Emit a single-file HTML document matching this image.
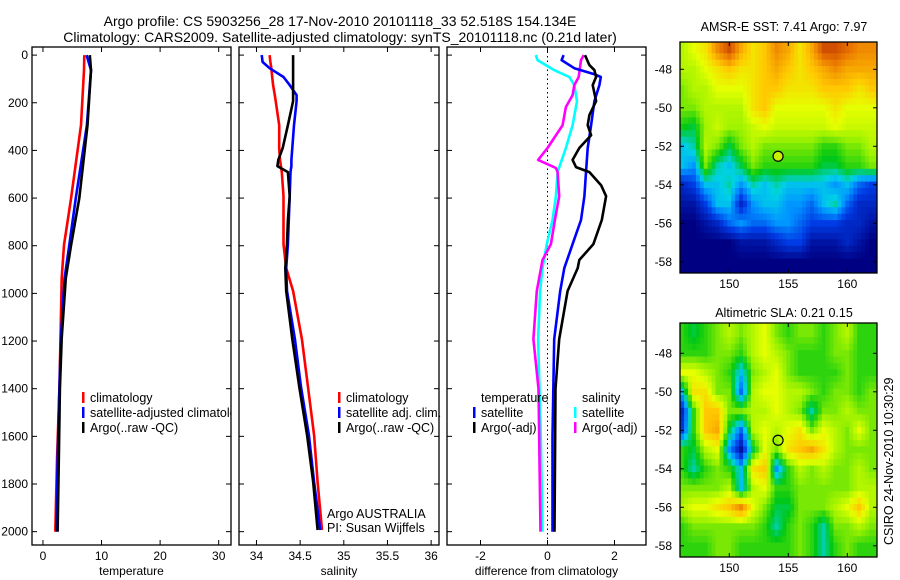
<!DOCTYPE html>
<html><head><meta charset="utf-8"><style>
html,body{margin:0;padding:0;background:#fff;}
svg{display:block;font-family:"Liberation Sans",sans-serif;}
</style></head><body>
<svg id="fig" width="900" height="580" viewBox="0 0 900 580" xmlns="http://www.w3.org/2000/svg">
<text x="340" y="26" text-anchor="middle" font-size="14">Argo profile: CS 5903256_28 17-Nov-2010 20101118_33 52.518S 154.134E</text>
<text x="340" y="42" text-anchor="middle" font-size="14">Climatology: CARS2009. Satellite-adjusted climatology: synTS_20101118.nc (0.21d later)</text>
<g id="p1"></g>
<g id="p2"></g>
<g id="p3"></g>
<text x="784" y="31" text-anchor="middle" font-size="12.5">AMSR-E SST: 7.41 Argo: 7.97</text>
<text x="784" y="317" text-anchor="middle" font-size="12.5">Altimetric SLA: 0.21 0.15</text>
<g id="m1"></g>
<g id="m2"></g>
<text transform="translate(893,545) rotate(-90)" font-size="12.5">CSIRO 24-Nov-2010 10:30:29</text>
</svg>
<script>
// ---- profile data ----
const depthT = [0,63,294,600,797,936,1188,1400,1700,2000];
const tempClim = [7.06,7.0,6.5,4.8,3.6,3.2,3.0,2.8,2.4,2.1];
const tempSat = [7.45,8.2,7.5,5.6,4.5,3.7,3.07,2.8,2.5,2.3];
const tempArgo = [8.0,8.2,7.6,6.2,4.8,3.9,3.2,2.9,2.7,2.5];

const depthS = [0,29,55,92,126,168,193,294,390,440,466,491,592,692,793,894,990,1192,1393,1595,1792,1993];
const salClim = [34.15,34.16,34.17,34.18,34.19,34.21,34.22,34.26,34.26,34.27,34.28,34.29,34.31,34.31,34.31,34.34,34.42,34.52,34.59,34.66,34.70,34.75];
const salSat = [34.06,34.07,34.15,34.31,34.38,34.46,34.46,34.43,34.41,34.40,34.40,34.39,34.38,34.37,34.36,34.34,34.35,34.44,34.51,34.60,34.66,34.73];
const salArgo = [34.42,34.42,34.42,34.42,34.42,34.42,34.42,34.36,34.30,34.25,34.24,34.36,34.38,34.36,34.35,34.33,34.34,34.41,34.49,34.58,34.65,34.70];

const depthD1 = [0,21,55,80,92,126,193,294,390,491,592,692,793,894,990,1192,1600,2000];
const dTempSat = [0.48,0.42,0.80,1.40,1.59,1.55,1.40,1.30,1.20,1.15,1.10,1.00,0.75,0.50,0.38,0.20,0.15,0.15];
const depthD2 = [0,42,63,92,126,193,252,294,336,390,440,470,491,546,592,692,793,860,894,990,1192,1400,2000];
const dTempArgo = [1.12,1.25,1.40,1.45,1.35,1.45,1.25,1.20,1.30,0.95,0.75,0.85,1.25,1.60,1.75,1.62,1.37,0.95,0.90,0.60,0.35,0.24,0.21];
const depthD3 = [0,21,63,92,126,193,294,390,491,592,692,793,894,990,1192,1600,2000];
const dSalSat = [-0.35,-0.30,0.20,0.65,0.80,0.88,0.75,0.55,0.30,0.25,0.15,-0.02,-0.15,-0.22,-0.28,-0.20,-0.15];
const depthD4 = [0,21,92,126,168,218,294,390,440,474,491,592,692,793,860,990,1192,1400,2000];
const dSalArgo = [1.08,1.00,0.93,0.80,0.75,0.55,0.45,0.0,-0.28,0.25,0.30,0.35,0.22,0.10,-0.15,-0.32,-0.42,-0.27,-0.21];

const depthTicks = [0,200,400,600,800,1000,1200,1400,1600,1800,2000];
const tempTicks = [0,10,20,30];
const salTicks = [34,34.5,35,35.5,36];
const diffTicks = [-2,0,2];

// ---- map grids (lat rows -47..-58, lon cols 146..162) ----
const mapLons = [146,147,148,149,150,151,152,153,154,155,156,157,158,159,160,161,162];
const mapLats = [-47,-48,-49,-50,-51,-52,-53,-54,-55,-56,-57,-58];
const sstGrid = [
[5.5,6,6.5,8,9,7.5,6.5,7,8,7.5,6.5,7.5,9,9,8.5,8,8],
[5.5,5.5,6,6.5,7,6.5,6.5,7,7.5,7,6.5,7,7.5,8,7.5,7.5,7.5],
[5,5.5,5.5,6,6,6,6.5,7,7,6.5,6.5,6.5,7,7,7,6.5,7],
[5,5,5.5,5.5,5.5,5.5,6.5,7,6,6,6,6,6,6.5,6,6,6],
[4.3,4,5.3,5.7,5.3,5.3,5.7,6,5.7,5.7,5.7,5.7,5.7,6,5.7,5.7,5.7],
[3,3.5,5.5,5,4,5,5.5,5,5,5,5,5,4.5,4.5,5,5,5.5],
[3,2.5,5,3.5,3,4,5,4.5,4.5,4.5,4.5,4.5,4,4,4.5,4.5,5],
[1,1.5,3,3,3.5,2.5,3.5,3,3.5,3,3,3,3,2.5,3,2,1.5],
[0.5,0.5,1.5,3,3,1,2.5,3,3,2.5,2.5,2,3,3.5,2,1,1],
[0,0,0.5,1,2,2.5,2,2,2.5,2.5,2,1.5,1.5,1.5,1,1,0.5],
[0,0,0,0,0,0.5,0.5,0.5,1,1.5,1.5,0.5,0.5,0.5,1,0.5,0],
[0,0,0,0,0,0,0,0,0,0,0,0,0,0,0,0,0]];
const slaGrid = [
[4.5,4,4.5,5,5.5,5,5.5,6,5,4.5,5,5,4.5,5,5.5,4.5,4.5],
[4.5,4.5,4.5,5,5,4.5,5.5,6,5.5,5,4.5,4.5,4.5,5,5,4.5,4.5],
[6,6,5.5,5,4.5,3,5,5.5,6,5,4.5,4.5,4.5,4.5,5,4.5,4.5],
[3,6.5,6.5,5,5,2,5.5,6,6,5.5,5.5,5,4.5,5,5,4.5,5],
[1,4.5,7,7,5,5,5.5,5.5,6,5.5,5,3.5,5,5,5.5,5,5],
[1.5,4.5,7,7.5,4,2,5.5,6,5.5,6,6.5,5,6,5.5,5,6,5],
[4.5,4,5.5,6,2.5,0.5,4,6,5,6.5,7,7.5,6.5,5.5,5,5,5],
[4.5,3.5,4.5,5,4.5,3,6.5,7,2.5,4.5,5.5,5,5.5,5,5,5.5,5],
[5,5,5,5,5.5,3,5.5,6,4.5,4.5,5,5,5,5,5,5.5,5.5],
[5.5,6,6,6.5,7,8,6,5,4,4,5,5,5,5.5,6,7,5.5],
[4.5,5,5,5,5,5,5,4.5,3.5,4.5,5,4.5,3.5,5,5,5.5,5],
[4.5,4.5,4.5,5,5,4.5,4.5,4.5,4.5,4.5,5,4.5,3.5,4.5,5,4.5,4.5]];
const floatLon = 154.134, floatLat = -52.518;
const mapLonTicks = [150,155,160];
const mapLatTicks = [-48,-50,-52,-54,-56,-58];

const NS = "http://www.w3.org/2000/svg";
function mk(tag, attrs, parent){const e=document.createElementNS(NS,tag);for(const k in attrs)e.setAttribute(k,attrs[k]);parent.appendChild(e);return e;}

const Y0=47, Y1=545;
const dMin=-34, dMax=2056;
const yOf = d => Y0 + (d-dMin)/(dMax-dMin)*(Y1-Y0);

function panel(g, x0, x1, xmin, xmax, xticks, xlabelFmt, xtitle, showY){
  const xOf = v => x0 + (v-xmin)/(xmax-xmin)*(x1-x0);
  const frame = mk('rect',{x:x0,y:Y0,width:x1-x0,height:Y1-Y0,fill:'none',stroke:'#000','stroke-width':1.3},g);
  
  
  depthTicks.forEach(d=>{
    const y=yOf(d);
    const t1=mk('line',{x1:x0,x2:x0+5,y1:y,y2:y,stroke:'#000'},g);
    
    
    mk('line',{x1:x1,x2:x1-5,y1:y,y2:y,stroke:'#000'},g);
    if(showY){
      const t=mk('text',{x:x0-4,y:y+4,'text-anchor':'end','font-size':12},g);
      t.textContent=d;
      
      
    }
  });
  xticks.forEach(v=>{
    const x=xOf(v);
    const t1=mk('line',{x1:x,x2:x,y1:Y1,y2:Y1-5,stroke:'#000'},g);
    
    
    mk('line',{x1:x,x2:x,y1:Y0,y2:Y0+5,stroke:'#000'},g);
    const t=mk('text',{x:x,y:Y1+15,'text-anchor':'middle','font-size':12},g);
    t.textContent=xlabelFmt(v);
    
    
  });
  const tt=mk('text',{x:(x0+x1)/2,y:575,'text-anchor':'middle','font-size':12},g);
  tt.textContent=xtitle;
  
  
  return xOf;
}
function line(g, xOf, depths, vals, color, name, clip){
  const pts = depths.map((d,i)=>xOf(vals[i]).toFixed(1)+','+yOf(d).toFixed(1)).join(' ');
  const p=mk('polyline',{points:pts,fill:'none',stroke:color,'stroke-width':2.6,'stroke-linejoin':'round'},g);
  if(clip) p.setAttribute('clip-path',clip);
  
  
}
function legend(g, x, y, color, label, name){
  const b=mk('rect',{x:x,y:y-10,width:2.5,height:11,fill:color},g);
  
  
  const t=mk('text',{x:x+8,y:y,'font-size':12.5},g);
  t.textContent=label;
  
  
  return t;
}
const svg=document.getElementById('fig');
const defs=mk('defs',{},svg);
function clipRect(id,x,y,w,h){const c=mk('clipPath',{id:id},defs);mk('rect',{x:x,y:y,width:w,height:h},c);}
clipRect('c1',32,47,199,498);clipRect('c2',239,47,200,498);clipRect('c3',447,47,199,498);

// Panel 1
const g1=document.getElementById('p1');
const xT=panel(g1,32,231,-1.87,32.1,tempTicks,v=>v,'temperature',true);
line(g1,xT,depthT,tempClim,'#f00','temp-climatology-line','url(#c1)');
line(g1,xT,depthT,tempSat,'#00f','temp-satellite-line','url(#c1)');
line(g1,xT,depthT,tempArgo,'#000','temp-argo-line','url(#c1)');
const lg1=document.createElementNS(NS,'g');lg1.setAttribute('clip-path','url(#c1)');g1.appendChild(lg1);
legend(lg1,82,402,'#f00','climatology','legend-climatology');
legend(lg1,82,417,'#00f','satellite-adjusted climatology','legend-satellite-adjusted');
legend(lg1,82,432,'#000','Argo(..raw -QC)','legend-argo-raw');

// Panel 2
const g2=document.getElementById('p2');
const xS=panel(g2,239,439,33.8,36.09,salTicks,v=>v,'salinity',false);
line(g2,xS,depthS,salClim,'#f00','sal-climatology-line','url(#c2)');
line(g2,xS,depthS,salSat,'#00f','sal-satellite-line','url(#c2)');
line(g2,xS,depthS,salArgo,'#000','sal-argo-line','url(#c2)');
legend(g2,338,402,'#f00','climatology','legend-sal-climatology');
legend(g2,338,417,'#00f','satellite adj. clim.','legend-sal-satellite');
legend(g2,338,432,'#000','Argo(..raw -QC)','legend-sal-argo');
const a1=mk('text',{x:327,y:518,'font-size':12.5},g2);a1.textContent='Argo AUSTRALIA';

const a2=mk('text',{x:327,y:532,'font-size':12.5},g2);a2.textContent='PI: Susan Wijffels';


// Panel 3
const g3=document.getElementById('p3');
const xD=panel(g3,447,646,-3.0,2.94,diffTicks,v=>v,'difference from climatology',false);
const z=mk('line',{x1:xD(0),x2:xD(0),y1:Y0,y2:Y1,stroke:'#000','stroke-dasharray':'1.5,3','stroke-width':1},g3);

line(g3,xD,depthD3,dSalSat,'#0ff','diff-sal-satellite-line','url(#c3)');
line(g3,xD,depthD4,dSalArgo,'#f0f','diff-sal-argo-line','url(#c3)');
line(g3,xD,depthD1,dTempSat,'#00f','diff-temp-satellite-line','url(#c3)');
line(g3,xD,depthD2,dTempArgo,'#000','diff-temp-argo-line','url(#c3)');
const th=mk('text',{x:481,y:402,'font-size':12.5},g3);th.textContent='temperature';

const sh=mk('text',{x:582,y:402,'font-size':12.5},g3);sh.textContent='salinity';

legend(g3,473,417,'#00f','satellite','legend-diff-temp-satellite');
legend(g3,473,432,'#000','Argo(-adj)','legend-diff-temp-argo');
legend(g3,574,417,'#0ff','satellite','legend-diff-sal-satellite');
legend(g3,574,432,'#f0f','Argo(-adj)','legend-diff-sal-argo');

// ---- maps ----
function cmap(v){
  const st=[[0,[0,0,130]],[1.5,[0,60,230]],[2.5,[0,150,255]],[3.2,[0,210,230]],[4.2,[0,200,20]],[5.2,[150,240,0]],[6,[230,255,0]],[7,[255,200,0]],[8.3,[235,120,0]],[10,[170,20,0]]];
  v=Math.max(0,Math.min(10,v));
  for(let i=1;i<st.length;i++){if(v<=st[i][0]){const a=st[i-1],b=st[i];const f=(v-a[0])/(b[0]-a[0]);return a[1].map((c,k)=>Math.round(c+(b[1][k]-c)*f));}}
  return st[st.length-1][1];
}
function drawMap(gid, grid, x0,x1,y0,y1, latRef0Y, clipId){
  const g=document.getElementById(gid);
  const lonX = lon => 729.3 + (lon-150)*11.8;
  const latY = lat => latRef0Y - (lat+48)*19.25;
  clipRect(clipId,x0,y0,x1-x0,y1-y0);
  const sub=3, nx=(mapLons.length-1)*sub+1, ny=(mapLats.length-1)*sub+1;
  const cells=document.createElementNS(NS,'g');cells.setAttribute('clip-path','url(#'+clipId+')');g.appendChild(cells);
  
  
  const dlon=1/sub;
  for(let j=0;j<ny;j++){
    for(let i=0;i<nx;i++){
      const gi=i/sub, gj=j/sub;
      const i0=Math.min(Math.floor(gi),mapLons.length-2), j0=Math.min(Math.floor(gj),mapLats.length-2);
      const fx=gi-i0, fy=gj-j0;
      const v=grid[j0][i0]*(1-fx)*(1-fy)+grid[j0][i0+1]*fx*(1-fy)+grid[j0+1][i0]*(1-fx)*fy+grid[j0+1][i0+1]*fx*fy;
      const lon=mapLons[0]+gi, lat=mapLats[0]-gj;
      const c=cmap(v);
      const xa=lonX(lon-dlon/2)-(i===0?12:0), xb=lonX(lon+dlon/2)+(i===nx-1?12:0);
      const ya=latY(lat+dlon/2)-(j===0?20:0), yb=latY(lat-dlon/2)+(j===ny-1?20:0);
      mk('rect',{x:xa.toFixed(1),y:ya.toFixed(1),width:(xb-xa+0.6).toFixed(1),height:(yb-ya+0.6).toFixed(1),fill:'rgb('+c.join(',')+')'},cells);
    }
  }
  const fr=mk('rect',{x:x0,y:y0,width:x1-x0,height:y1-y0,fill:'none',stroke:'#000','stroke-width':1.3},g);
  
  mapLonTicks.forEach(l=>{const x=lonX(l);
    mk('line',{x1:x,x2:x,y1:y1,y2:y1-4,stroke:'#000'},g);mk('line',{x1:x,x2:x,y1:y0,y2:y0+4,stroke:'#000'},g);
    const t=mk('text',{x:x,y:y1+15,'text-anchor':'middle','font-size':12},g);t.textContent=l;
    });
  mapLatTicks.forEach(l=>{const y=latY(l);
    mk('line',{x1:x0,x2:x0+4,y1:y,y2:y,stroke:'#000'},g);mk('line',{x1:x1,x2:x1-4,y1:y,y2:y,stroke:'#000'},g);
    const t=mk('text',{x:x0-8,y:y+4,'text-anchor':'end','font-size':12},g);t.textContent=l;
    });
  const m=mk('circle',{cx:lonX(floatLon),cy:latY(floatLat),r:5,fill:gid==='m1'?'#c8f000':'none',stroke:'#000','stroke-width':1.2},g);
  
}
drawMap('m1',sstGrid,680,877,42,273,69.3,'mc1');
drawMap('m2',slaGrid,680,877,323,557,353.3,'mc2');
</script>
</body></html>
